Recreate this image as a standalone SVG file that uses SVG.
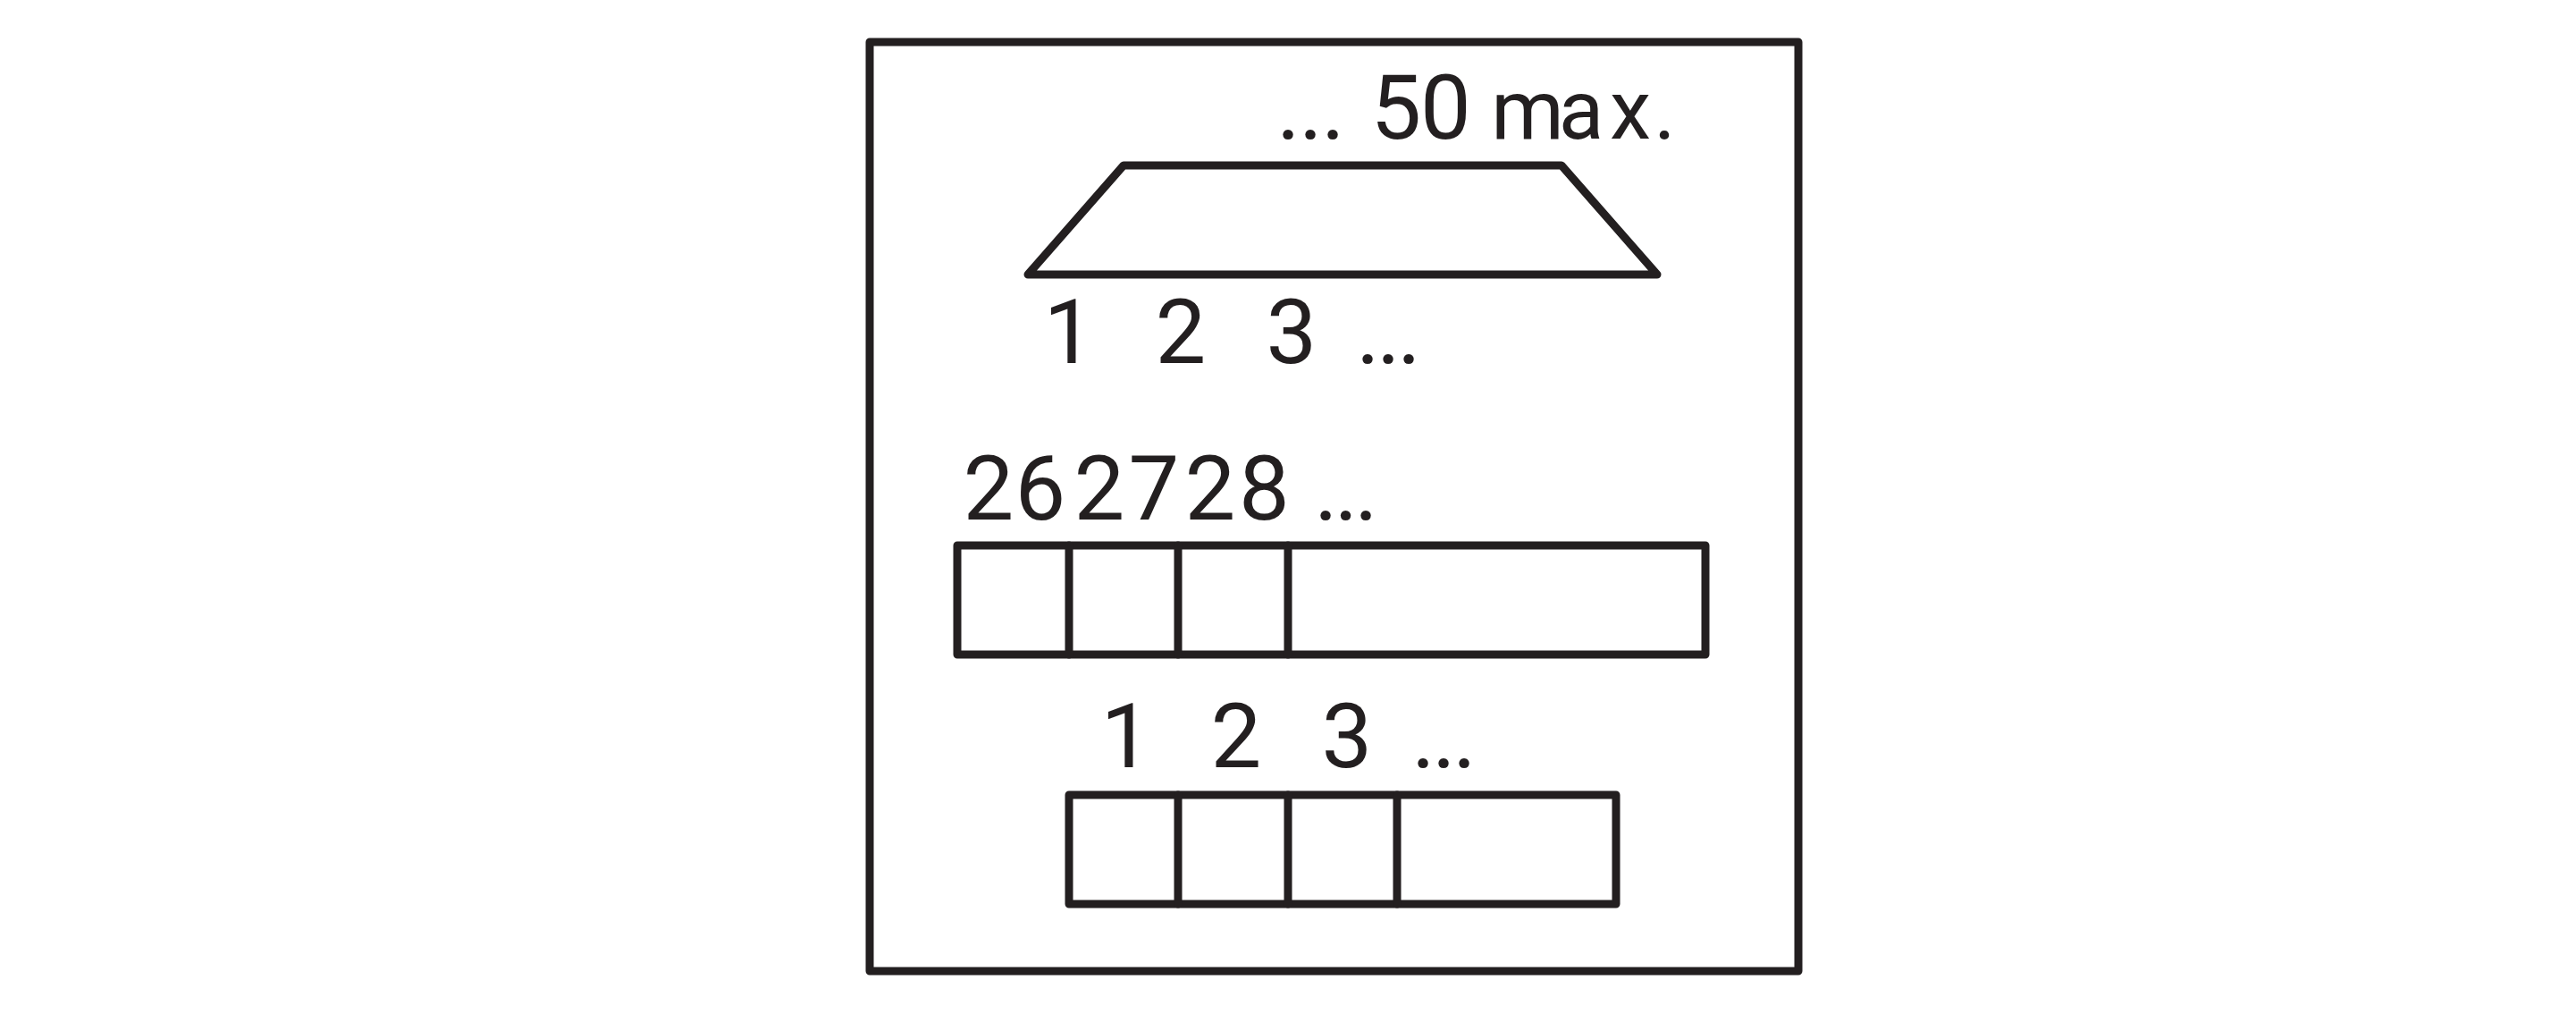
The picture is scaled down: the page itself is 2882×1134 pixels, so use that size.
<svg xmlns="http://www.w3.org/2000/svg" width="2882" height="1134" viewBox="0 0 2882 1134">
<style>
.ln{fill:none;stroke:#231f20;stroke-width:9;stroke-linejoin:round;stroke-linecap:round}
.tx{font-family:Roboto,"Liberation Sans",sans-serif;font-size:101px;font-weight:400;fill:#231f20;text-anchor:middle}
.sm{font-size:93px}
</style>
<rect width="2882" height="1134" fill="#ffffff"/>
<g id="frame">
<rect class="ln" x="973" y="47" width="1039" height="1039"/>
</g>
<g id="label-max">
<text class="tx" x="1441.5 1466.5 1491.5 1515 1562 1617.5 1650 1709 1769 1824 1862.5" y="155">... 50 <tspan class="sm">max.</tspan></text>
</g>
<g id="trapezoid">
<polygon class="ln" points="1150,307 1257,185 1747,185 1854,307"/>
</g>
<g id="label-trapezoid">
<text class="tx" x="1196 1255 1321 1383 1445 1500 1530.5 1553.5 1576.5" y="406">1 2 3 ...</text>
</g>
<g id="label-strip-top">
<text class="tx" x="1106 1164 1230 1291 1354 1414.5 1450 1483.5 1506 1528.5" y="581">262728 ...</text>
</g>
<g id="strip-top">
<rect class="ln" x="1071" y="610" width="837" height="122"/>
<line class="ln" x1="1196" y1="610" x2="1196" y2="732"/>
<line class="ln" x1="1318" y1="610" x2="1318" y2="732"/>
<line class="ln" x1="1441" y1="610" x2="1441" y2="732"/>
</g>
<g id="label-strip-bottom">
<text class="tx" x="1260 1320 1383 1445 1507 1560 1592.5 1615.5 1638.5" y="858">1 2 3 ...</text>
</g>
<g id="strip-bottom">
<rect class="ln" x="1196" y="889" width="612" height="122"/>
<line class="ln" x1="1318" y1="889" x2="1318" y2="1011"/>
<line class="ln" x1="1441" y1="889" x2="1441" y2="1011"/>
<line class="ln" x1="1563" y1="889" x2="1563" y2="1011"/>
</g>
<g id="connectors"></g>
</svg>
